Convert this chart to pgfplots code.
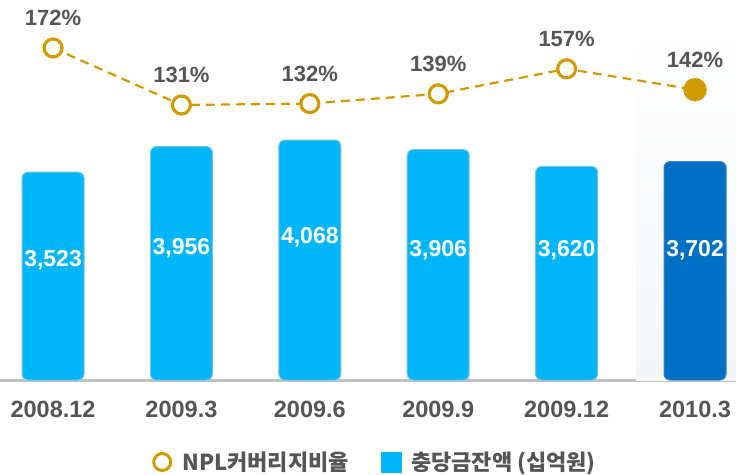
\documentclass[border=0pt]{standalone}
\usepackage{pgfplots}
\pgfplotsset{compat=1.18}
\usepackage{fontspec}
\setmainfont{Liberation Sans}
\newfontfamily\kr{Noto Sans CJK KR}
\definecolor{barblue}{RGB}{0,181,248}
\definecolor{baredge}{RGB}{120,195,230}
\definecolor{darkblue}{RGB}{0,112,196}
\definecolor{darkedge}{RGB}{60,130,190}
\definecolor{gold}{RGB}{208,154,0}
\definecolor{txtgray}{RGB}{85,85,85}
\definecolor{axisgray}{RGB}{192,192,192}
\definecolor{panelgray}{RGB}{243,245,247}
% bars as line paths, so that rounded corners applies to them
\makeatletter
\def\pgfpathrectanglecorners#1#2{%
  \pgf@process{#1}\edef\rcxa{\the\pgf@x}\edef\rcya{\the\pgf@y}%
  \pgf@process{#2}\edef\rcxb{\the\pgf@x}\edef\rcyb{\the\pgf@y}%
  \pgfpathmoveto{\pgfqpoint{\rcxa}{\rcya}}%
  \pgfpathlineto{\pgfqpoint{\rcxa}{\rcyb}}%
  \pgfpathlineto{\pgfqpoint{\rcxb}{\rcyb}}%
  \pgfpathlineto{\pgfqpoint{\rcxb}{\rcya}}%
  \pgfpathclose}
\makeatother
\begin{document}
\begin{tikzpicture}
\useasboundingbox (0pt,-94pt) rectangle (736pt,380pt);
% bars: 충당금잔액
\begin{axis}[
    at={(0pt,0pt)}, anchor=south west,
    scale only axis, width=736pt, height=380pt,
    xmin=-0.413, xmax=5.319, ymin=0, ymax=6441,
    axis x line*=bottom, axis y line=none,
    axis line style={draw=axisgray, line width=3pt, -},
    xtick={0,...,5},
    xticklabels={2008.12,2009.3,2009.6,2009.9,2009.12,2010.3},
    xtick style={draw=none},
    xticklabel style={font=\fontsize{23.5}{24}\selectfont\bfseries, text=txtgray, anchor=base, yshift=-37pt},
    clip=false,
]
\fill[top color=white, bottom color=panelgray] (axis cs:4.54,0) rectangle (axis cs:5.319,5983);
\addplot[ybar, bar width=62pt, bar shift=0pt, fill=barblue, draw=baredge, line width=1pt, rounded corners=6pt]
    coordinates {(0,3523) (1,3956) (2,4068) (3,3906) (4,3620)};
\addplot[ybar, bar width=62pt, bar shift=0pt, fill=darkblue, draw=darkedge, line width=1pt, rounded corners=6pt]
    coordinates {(5,3702)};
\addplot[draw=none, nodes near coords, point meta=explicit symbolic,
    every node near coord/.append style={anchor=center, text=white, font=\fontsize{23}{23}\selectfont\bfseries}]
    coordinates {
    (0,2034) [3,523]
    (1,2237) [3,956]
    (2,2424) [4,068]
    (3,2203) [3,906]
    (4,2203) [3,620]
    (5,2203) [3,702]
};
\end{axis}
% line: NPL커버리지비율
\begin{axis}[
    at={(0pt,0pt)}, anchor=south west,
    scale only axis, width=736pt, height=380pt,
    xmin=-0.413, xmax=5.319, ymin=-66.8, ymax=206.5,
    hide axis, clip=false,
    legend style={at={(0.5095,-0.2158)}, anchor=center, draw=none, fill=none,
        font=\fontsize{22}{26}\selectfont\kr\bfseries, text=txtgray,
        /tikz/every odd column/.append style={column sep=8pt},
        /tikz/every even column/.append style={column sep=30pt}},
    legend columns=2,
]
\addlegendimage{legend image code/.code={\draw[gold, line width=3pt, fill=white] (9pt,0pt) circle (8.5pt);}}
\addlegendentry{NPL커버리지비율}
\addlegendimage{legend image code/.code={\fill[barblue] (0pt,-10pt) rectangle (20pt,10pt);}}
\addlegendentry{충당금잔액 (십억원)}
\addplot[forget plot, draw=gold, line width=2.2pt, dash pattern=on 9pt off 6pt,
    mark=*, mark size=9pt, mark options={solid, draw=gold, fill=white, line width=3.2pt},
    nodes near coords, point meta=explicit symbolic,
    every node near coord/.append style={anchor=center, yshift=30pt, text=txtgray, font=\fontsize{22}{22}\selectfont\bfseries}]
    coordinates {
    (0,172) [172\%]
    (1,131) [131\%]
    (2,132) [132\%]
    (3,139) [139\%]
    (4,157) [157\%]
    (5,142) [142\%]
};
\addplot[forget plot, color=gold, only marks, mark=*, mark size=11.5pt]
    coordinates {(5,142)};
\end{axis}
\end{tikzpicture}
\end{document}
